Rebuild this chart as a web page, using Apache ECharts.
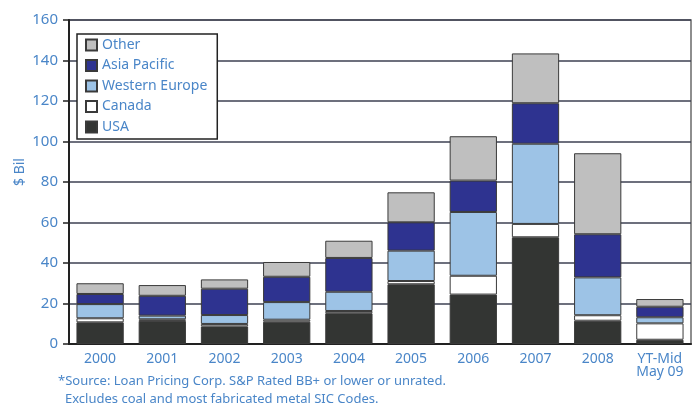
<!DOCTYPE html>
<html>
<head>
<meta charset="utf-8">
<script src="https://cdn.jsdelivr.net/npm/echarts@6/dist/echarts.min.js"></script>
<style>
  html, body { margin: 0; padding: 0; background: #fff; }
  #chart { width: 699px; height: 409px; }
</style>
</head>
<body>
<div id="chart"></div>
<script>
// Leveraged loan issuance by region, $ billions
const categories = ['2000', '2001', '2002', '2003', '2004', '2005', '2006', '2007', '2008', 'YT-Mid\nMay 09'];
const usa          = [10.7, 11.4,  8.7, 11.0, 15.2, 29.5, 24.4, 52.7, 11.5, 2.1];
const canada       = [ 2.0,  0.8,  1.2,  1.0,  1.1,  1.6,  9.3,  6.6,  2.7, 8.1];
const westEurope   = [ 7.0,  1.8,  4.4,  8.7,  9.5, 15.0, 31.5, 39.6, 18.7, 3.0];
const asiaPacific  = [ 5.0,  9.8, 13.0, 12.5, 16.7, 14.0, 15.5, 20.0, 21.3, 5.2];
const other        = [ 5.3,  5.3,  4.6,  7.3,  8.5, 14.8, 21.9, 24.6, 40.0, 3.8];
const yTicks = { min: 0, max: 160, step: 20 };

const blue = '#4a86c8';
const font = '"Noto Sans", sans-serif';

function stackSeries(name, data, color) {
  return {
    name, type: 'bar', stack: 'total', data,
    barCategoryGap: '24%',
    itemStyle: { color, borderColor: '#3a3a3a', borderWidth: 1 },
    emphasis: { disabled: true }
  };
}

const chart = echarts.init(document.getElementById('chart'), null, { renderer: 'canvas' });
chart.setOption({
  animation: false,
  backgroundColor: '#fff',
  textStyle: { fontFamily: font },
  grid: {
    left: 69, right: 8, top: 20, bottom: 65,
    containLabel: false, outerBoundsMode: 'none',
    show: true, borderColor: '#6a6a6a', borderWidth: 1.5, backgroundColor: 'transparent'
  },
  legend: {
    data: ['Other', 'Asia Pacific', 'Western Europe', 'Canada', 'USA'],
    orient: 'vertical',
    left: 77, top: 34,
    padding: [4, 10, 5, 8],
    itemWidth: 11, itemHeight: 11, itemGap: 6.5,
    icon: 'rect',
    backgroundColor: '#fff',
    borderColor: '#222', borderWidth: 1.5,
    textStyle: { color: blue, fontSize: 14, fontFamily: font }
  },
  xAxis: {
    type: 'category',
    data: categories,
    axisLine: { lineStyle: { color: '#222', width: 2 } },
    axisTick: { show: false },
    axisLabel: { color: blue, fontSize: 14, margin: 9, lineHeight: 13, fontFamily: font }
  },
  yAxis: {
    type: 'value',
    min: yTicks.min, max: yTicks.max, interval: yTicks.step,
    axisLine: { show: true, lineStyle: { color: '#222', width: 2 } },
    axisTick: { show: true, length: 6, lineStyle: { color: '#222', width: 1.5 } },
    axisLabel: { color: blue, fontSize: 15, margin: 11, fontFamily: font },
    splitLine: { show: true, lineStyle: { color: '#3c4052', width: 1.5 } }
  },
  series: [
    stackSeries('USA', usa, '#333533'),
    stackSeries('Canada', canada, '#ffffff'),
    stackSeries('Western Europe', westEurope, '#9dc3e6'),
    stackSeries('Asia Pacific', asiaPacific, '#2e3390'),
    stackSeries('Other', other, '#bfbfbf')
  ],
  graphic: [
    {
      // vertical axis title
      type: 'text', x: 20, y: 172, rotation: Math.PI / 2,
      style: { text: '$ Bil', fill: blue, font: '14px ' + font, align: 'center', verticalAlign: 'middle' }
    },
    {
      type: 'text', left: 58, top: 375,
      style: { text: '*Source: Loan Pricing Corp. S&P Rated BB+ or lower or unrated.', fill: blue, font: '13px ' + font }
    },
    {
      type: 'text', left: 65, top: 393,
      style: { text: 'Excludes coal and most fabricated metal SIC Codes.', fill: blue, font: '13px ' + font }
    }
  ]
});
</script>
</body>
</html>
